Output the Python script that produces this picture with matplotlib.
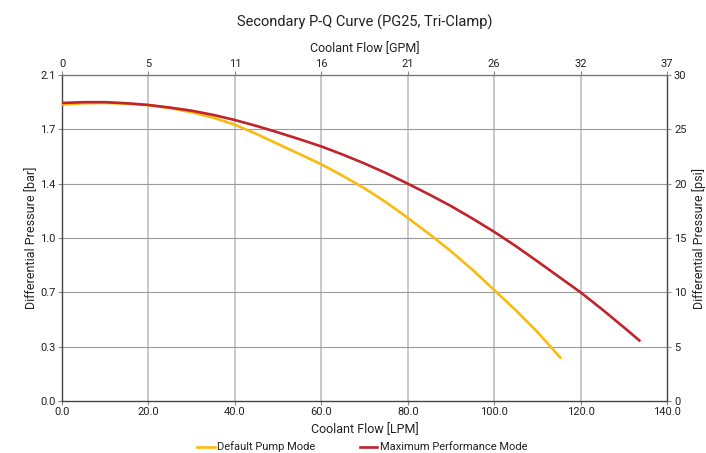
import matplotlib
matplotlib.use("Agg")
import matplotlib.pyplot as plt

plt.rcParams['font.family'] = ['Roboto', 'DejaVu Sans']

# Data (LPM vs bar)
default_lpm = [0, 5, 10, 15, 20, 25, 30, 35, 40, 45, 50, 55, 60, 65, 70, 75, 80,
               85, 90, 95, 100, 105, 110, 115.3]
default_bar = [1.91, 1.918, 1.92, 1.915, 1.905, 1.887, 1.86, 1.825, 1.78, 1.72, 1.655,
               1.59, 1.525, 1.45, 1.37, 1.28, 1.18, 1.075, 0.965, 0.845, 0.715, 0.585,
               0.445, 0.28]

max_lpm = [0, 5, 10, 15, 20, 25, 30, 35, 40, 45, 50, 55, 60, 65, 70, 75, 80, 85, 90,
           95, 100, 105, 110, 115, 120, 125, 130, 133.6]
max_bar = [1.92, 1.925, 1.925, 1.918, 1.907, 1.89, 1.87, 1.843, 1.81, 1.772, 1.73,
           1.686, 1.64, 1.587, 1.53, 1.468, 1.40, 1.33, 1.256, 1.175, 1.09, 0.998,
           0.90, 0.80, 0.70, 0.59, 0.475, 0.39]

lpm_ticks = [0, 20, 40, 60, 80, 100, 120, 140]
lpm_labels = ["0.0", "20.0", "40.0", "60.0", "80.0", "100.0", "120.0", "140.0"]
gpm_labels = ["0", "5", "11", "16", "21", "26", "32", "37"]
bar_ticks = [0, 0.35, 0.7, 1.05, 1.4, 1.75, 2.1]
bar_labels = ["0.0", "0.3", "0.7", "1.0", "1.4", "1.7", "2.1"]
psi_ticks = [0, 5, 10, 15, 20, 25, 30]

YELLOW = "#FBBA10"
RED = "#C1232B"
TXT = "#222222"

fig = plt.figure(figsize=(7.06, 4.53), dpi=100)
ax = fig.add_axes([62/706, 1-401/453, (667-62)/706, (401-75)/453])

ax.set_xlim(0, 140)
ax.set_ylim(0, 2.1)
ax.set_xticks(lpm_ticks)
ax.set_xticklabels(lpm_labels)
ax.set_yticks(bar_ticks)
ax.set_yticklabels(bar_labels)

for x in lpm_ticks[1:-1]:
    ax.axvline(x, color="#c4c4c4", lw=1.3, zorder=1)
for y in bar_ticks[1:-1]:
    ax.axhline(y, color="#9a9a9a", lw=0.8, zorder=1)

l1, = ax.plot(default_lpm, default_bar, color=YELLOW, lw=1.9, zorder=3,
              label="Default Pump Mode", solid_joinstyle='round')
l2, = ax.plot(max_lpm, max_bar, color=RED, lw=1.9, zorder=4,
              label="Maximum Performance Mode", solid_joinstyle='round')

for s in ax.spines.values():
    s.set_color("#444444")
    s.set_linewidth(1.0)
ax.spines['top'].set_color("#777777")

ax.tick_params(axis='both', labelsize=8, colors="#888888", labelcolor=TXT, length=3, width=0.8, pad=1.5)
ax.set_xlabel("Coolant Flow [LPM]", fontsize=9, color=TXT, labelpad=4)
ax.set_ylabel("Differential Pressure [bar]", fontsize=9, color=TXT)
ax.yaxis.set_label_coords((38 - 62) / 605, 0.5)

# top axis (GPM)
axt = ax.twiny()
axt.set_xlim(0, 140)
axt.set_xticks(lpm_ticks)
axt.set_xticklabels(gpm_labels)
axt.tick_params(axis='x', labelsize=8, colors="#888888", labelcolor=TXT, length=3, width=0.8, pad=1.5)
axt.set_xlabel("Coolant Flow [GPM]", fontsize=9, color=TXT, labelpad=5)

# right axis (psi)
axr = ax.twinx()
axr.set_ylim(0, 30)
axr.set_yticks(psi_ticks)
axr.tick_params(axis='y', labelsize=8, colors="#888888", labelcolor=TXT, length=3, width=0.8, pad=2)
axr.set_ylabel("Differential Pressure [psi]", fontsize=9, color=TXT)
axr.yaxis.set_label_coords((692.5 - 62) / 605, 0.5)
for a in (axt, axr):
    for s in a.spines.values():
        s.set_visible(False)

fig.text(364.5/706, 1-22/453, "Secondary P-Q Curve (PG25, Tri-Clamp)", ha='center', va='center',
         fontsize=10.5, color=TXT)

fig.legend(handles=[l1, l2], loc='center', bbox_to_anchor=(362/706, 1-447/453), ncol=2,
           frameon=False, fontsize=8, handlelength=1.6, handletextpad=0.2, columnspacing=4.0,
           labelcolor=TXT)

fig.savefig("out.png", dpi=100)
